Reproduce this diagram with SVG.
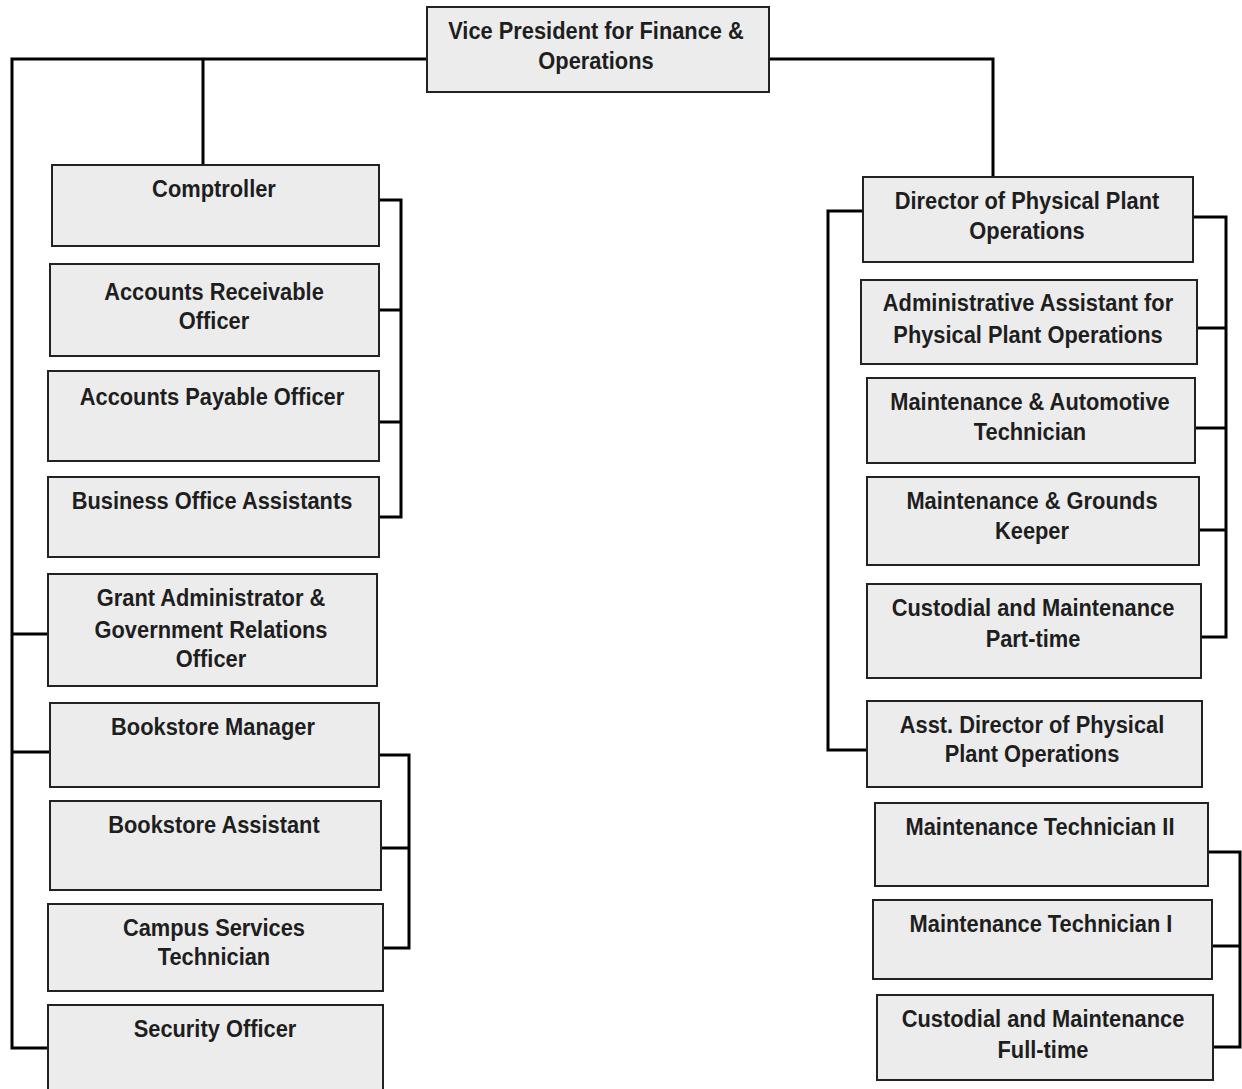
<svg xmlns="http://www.w3.org/2000/svg" width="1242" height="1089" viewBox="0 0 1242 1089">
<style>
.box{fill:#ececec;stroke:#222;stroke-width:2}
.lbl{font-family:"Liberation Sans",Arial,sans-serif;font-weight:bold;font-size:24px;fill:#1e1e1e;text-anchor:middle}
.con{fill:none;stroke:#000;stroke-width:3;stroke-linejoin:miter}
</style>
<rect width="1242" height="1089" fill="#fff"/>
<g id="connectors">
<path class="con" d="M427,59 H12 V1048 H48"/>
<path class="con" d="M203,59 V165"/>
<path class="con" d="M12,634 H48"/>
<path class="con" d="M12,752 H50"/>
<path class="con" d="M379,200 H401 V517 H379"/>
<path class="con" d="M379,310 H401"/>
<path class="con" d="M379,422 H401"/>
<path class="con" d="M379,755 H409 V948 H383"/>
<path class="con" d="M381,848 H409"/>
<path class="con" d="M769,59 H993 V177"/>
<path class="con" d="M863,211 H828 V750 H867"/>
<path class="con" d="M1193,217 H1226 V637 H1201"/>
<path class="con" d="M1197,328 H1226"/>
<path class="con" d="M1195,428 H1226"/>
<path class="con" d="M1199,530 H1226"/>
<path class="con" d="M1208,852 H1240 V1047 H1213"/>
<path class="con" d="M1212,946 H1240"/>
</g>
<g id="vp"><rect class="box" x="427" y="7" width="342" height="85"/><text class="lbl" transform="scale(0.91,1)" x="654.95" y="39">Vice President for Finance &amp;</text><text class="lbl" transform="scale(0.91,1)" x="654.95" y="69">Operations</text></g>
<g id="comptroller"><rect class="box" x="52" y="165" width="327" height="81"/><text class="lbl" transform="scale(0.91,1)" x="235.16" y="197">Comptroller</text></g>
<g id="ar"><rect class="box" x="50" y="264" width="329" height="92"/><text class="lbl" transform="scale(0.91,1)" x="235.16" y="300">Accounts Receivable</text><text class="lbl" transform="scale(0.91,1)" x="235.16" y="329">Officer</text></g>
<g id="ap"><rect class="box" x="48" y="371" width="331" height="90"/><text class="lbl" transform="scale(0.91,1)" x="232.97" y="405">Accounts Payable Officer</text></g>
<g id="boa"><rect class="box" x="48" y="477" width="331" height="80"/><text class="lbl" transform="scale(0.91,1)" x="232.97" y="509">Business Office Assistants</text></g>
<g id="grant"><rect class="box" x="48" y="574" width="329" height="112"/><text class="lbl" transform="scale(0.91,1)" x="231.87" y="606">Grant Administrator &amp;</text><text class="lbl" transform="scale(0.91,1)" x="231.87" y="638">Government Relations</text><text class="lbl" transform="scale(0.91,1)" x="231.87" y="667">Officer</text></g>
<g id="bm"><rect class="box" x="50" y="703" width="329" height="84"/><text class="lbl" transform="scale(0.91,1)" x="234.07" y="735">Bookstore Manager</text></g>
<g id="ba"><rect class="box" x="50" y="801" width="331" height="89"/><text class="lbl" transform="scale(0.91,1)" x="235.16" y="833">Bookstore Assistant</text></g>
<g id="cst"><rect class="box" x="48" y="904" width="335" height="87"/><text class="lbl" transform="scale(0.91,1)" x="235.16" y="936">Campus Services</text><text class="lbl" transform="scale(0.91,1)" x="235.16" y="965">Technician</text></g>
<g id="so"><rect class="box" x="48" y="1005" width="335" height="90"/><text class="lbl" transform="scale(0.91,1)" x="236.26" y="1037">Security Officer</text></g>
<g id="dir"><rect class="box" x="863" y="177" width="330" height="85"/><text class="lbl" transform="scale(0.91,1)" x="1128.57" y="209">Director of Physical Plant</text><text class="lbl" transform="scale(0.91,1)" x="1128.57" y="239">Operations</text></g>
<g id="aa"><rect class="box" x="861" y="280" width="336" height="84"/><text class="lbl" transform="scale(0.91,1)" x="1129.67" y="311">Administrative Assistant for</text><text class="lbl" transform="scale(0.91,1)" x="1129.67" y="343">Physical Plant Operations</text></g>
<g id="mat"><rect class="box" x="867" y="378" width="328" height="85"/><text class="lbl" transform="scale(0.91,1)" x="1131.87" y="410">Maintenance &amp; Automotive</text><text class="lbl" transform="scale(0.91,1)" x="1131.87" y="440">Technician</text></g>
<g id="mgk"><rect class="box" x="867" y="477" width="332" height="88"/><text class="lbl" transform="scale(0.91,1)" x="1134.07" y="509">Maintenance &amp; Grounds</text><text class="lbl" transform="scale(0.91,1)" x="1134.07" y="539">Keeper</text></g>
<g id="cmpt"><rect class="box" x="867" y="584" width="334" height="94"/><text class="lbl" transform="scale(0.91,1)" x="1135.16" y="616">Custodial and Maintenance</text><text class="lbl" transform="scale(0.91,1)" x="1135.16" y="647">Part-time</text></g>
<g id="adir"><rect class="box" x="867" y="701" width="335" height="86"/><text class="lbl" transform="scale(0.91,1)" x="1134.07" y="733">Asst. Director of Physical</text><text class="lbl" transform="scale(0.91,1)" x="1134.07" y="762">Plant Operations</text></g>
<g id="mt2"><rect class="box" x="875" y="803" width="333" height="83"/><text class="lbl" transform="scale(0.91,1)" x="1142.86" y="835">Maintenance Technician II</text></g>
<g id="mt1"><rect class="box" x="873" y="900" width="339" height="79"/><text class="lbl" transform="scale(0.91,1)" x="1143.96" y="932">Maintenance Technician I</text></g>
<g id="cmft"><rect class="box" x="877" y="995" width="336" height="85"/><text class="lbl" transform="scale(0.91,1)" x="1146.15" y="1027">Custodial and Maintenance</text><text class="lbl" transform="scale(0.91,1)" x="1146.15" y="1058">Full-time</text></g>
</svg>
